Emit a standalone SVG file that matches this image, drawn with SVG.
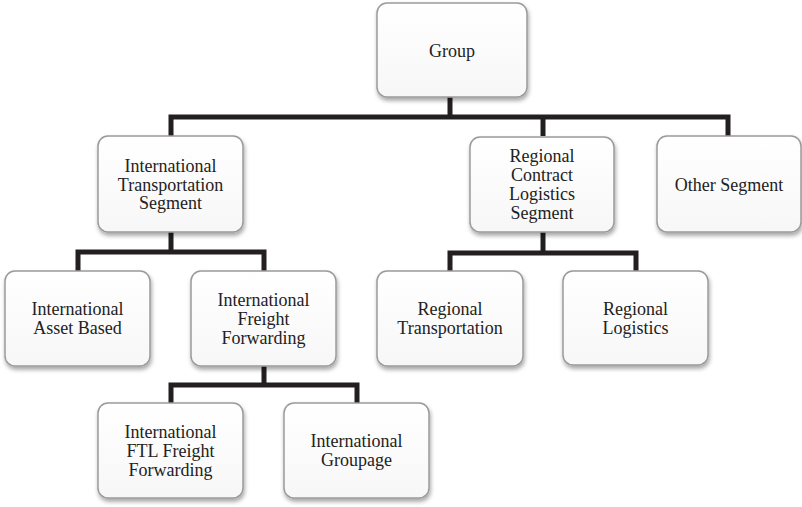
<svg xmlns="http://www.w3.org/2000/svg" width="802" height="507" viewBox="0 0 802 507">
<defs>
<filter id="sh" x="-10%" y="-10%" width="125%" height="130%">
<feDropShadow dx="1" dy="3" stdDeviation="2" flood-color="#000" flood-opacity="0.35"/>
</filter>
<linearGradient id="g" x1="0" y1="0" x2="0" y2="1">
<stop offset="0" stop-color="#ffffff"/>
<stop offset="1" stop-color="#f7f7f7"/>
</linearGradient>
</defs>
<style>
.box{fill:url(#g);stroke:#9a9a9a;stroke-width:1.5;filter:url(#sh)}
.c{fill:none;stroke:#231f20;stroke-width:5;stroke-linejoin:miter;stroke-linecap:butt}
</style>
<rect width="802" height="507" fill="#fff"/>
<g id="connectors">
<path class="c" d="M450 97V117"/>
<path class="c" d="M171 136V117H728V136"/>
<path class="c" d="M543 117V136"/>
<path class="c" d="M171 232V252"/>
<path class="c" d="M78 271V252H264V271"/>
<path class="c" d="M543 232V253"/>
<path class="c" d="M450 271V253H636V271"/>
<path class="c" d="M264 366V385"/>
<path class="c" d="M171 403V385H357V403"/>
</g>
<g id="group">
<rect class="box" x="377" y="3" width="150" height="94" rx="10"/>
<text x="452" y="57" font-family="Liberation Serif" font-size="18" fill="#222" text-anchor="middle">Group</text>
</g>
<g id="its">
<rect class="box" x="98" y="136" width="145" height="96" rx="10"/>
<text x="170.5" y="172" font-family="Liberation Serif" font-size="18" fill="#222" text-anchor="middle">International</text>
<text x="170.5" y="190.5" font-family="Liberation Serif" font-size="18" fill="#222" text-anchor="middle">Transportation</text>
<text x="170.5" y="209" font-family="Liberation Serif" font-size="18" fill="#222" text-anchor="middle">Segment</text>
</g>
<g id="rcls">
<rect class="box" x="470" y="137" width="144" height="95" rx="10"/>
<text x="542" y="161.5" font-family="Liberation Serif" font-size="18" fill="#222" text-anchor="middle">Regional</text>
<text x="542" y="180.5" font-family="Liberation Serif" font-size="18" fill="#222" text-anchor="middle">Contract</text>
<text x="542" y="199.5" font-family="Liberation Serif" font-size="18" fill="#222" text-anchor="middle">Logistics</text>
<text x="542" y="218.5" font-family="Liberation Serif" font-size="18" fill="#222" text-anchor="middle">Segment</text>
</g>
<g id="other">
<rect class="box" x="657" y="136" width="144" height="96" rx="10"/>
<text x="729" y="191" font-family="Liberation Serif" font-size="18" fill="#222" text-anchor="middle">Other Segment</text>
</g>
<g id="iab">
<rect class="box" x="5" y="271" width="145" height="95" rx="10"/>
<text x="77.5" y="315" font-family="Liberation Serif" font-size="18" fill="#222" text-anchor="middle">International</text>
<text x="77.5" y="334" font-family="Liberation Serif" font-size="18" fill="#222" text-anchor="middle">Asset Based</text>
</g>
<g id="iff">
<rect class="box" x="191" y="271" width="145" height="95" rx="10"/>
<text x="263.5" y="305.5" font-family="Liberation Serif" font-size="18" fill="#222" text-anchor="middle">International</text>
<text x="263.5" y="324.5" font-family="Liberation Serif" font-size="18" fill="#222" text-anchor="middle">Freight</text>
<text x="263.5" y="343.5" font-family="Liberation Serif" font-size="18" fill="#222" text-anchor="middle">Forwarding</text>
</g>
<g id="rt">
<rect class="box" x="377" y="271" width="146" height="95" rx="10"/>
<text x="450" y="315" font-family="Liberation Serif" font-size="18" fill="#222" text-anchor="middle">Regional</text>
<text x="450" y="334" font-family="Liberation Serif" font-size="18" fill="#222" text-anchor="middle">Transportation</text>
</g>
<g id="rl">
<rect class="box" x="563" y="271" width="145" height="94" rx="10"/>
<text x="635.5" y="315" font-family="Liberation Serif" font-size="18" fill="#222" text-anchor="middle">Regional</text>
<text x="635.5" y="334" font-family="Liberation Serif" font-size="18" fill="#222" text-anchor="middle">Logistics</text>
</g>
<g id="ftl">
<rect class="box" x="98" y="403" width="145" height="95" rx="10"/>
<text x="170.5" y="437.5" font-family="Liberation Serif" font-size="18" fill="#222" text-anchor="middle">International</text>
<text x="170.5" y="456.5" font-family="Liberation Serif" font-size="18" fill="#222" text-anchor="middle">FTL Freight</text>
<text x="170.5" y="475.5" font-family="Liberation Serif" font-size="18" fill="#222" text-anchor="middle">Forwarding</text>
</g>
<g id="igp">
<rect class="box" x="284" y="403" width="145" height="95" rx="10"/>
<text x="356.5" y="447" font-family="Liberation Serif" font-size="18" fill="#222" text-anchor="middle">International</text>
<text x="356.5" y="466" font-family="Liberation Serif" font-size="18" fill="#222" text-anchor="middle">Groupage</text>
</g>
</svg>
